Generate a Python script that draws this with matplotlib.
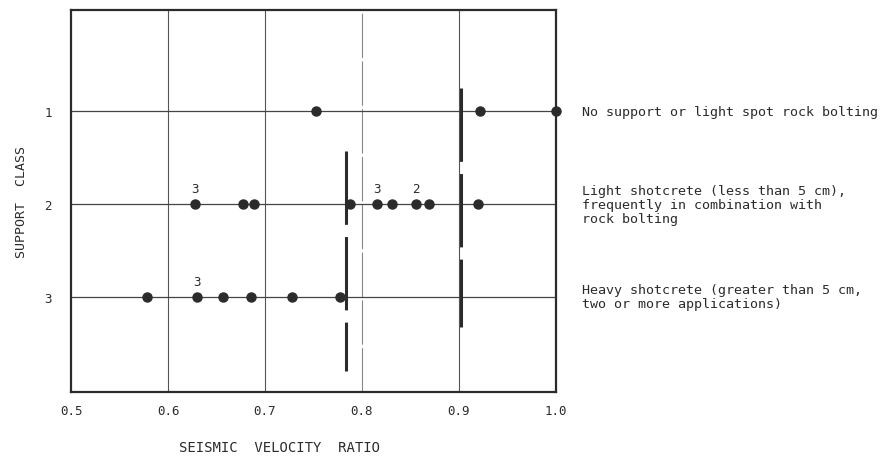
import matplotlib.pyplot as plt

# Data
class1_x = [0.753, 0.922, 1.0]
class2_x = [0.628, 0.677, 0.689, 0.788, 0.816, 0.831, 0.856, 0.869, 0.920]
class3_x = [0.578, 0.630, 0.657, 0.686, 0.728, 0.777]

# count labels written above some points: (x, class, text)
count_labels = [(0.628, 2, "3"), (0.816, 2, "3"), (0.856, 2, "2"), (0.630, 3, "3")]

# boundary lines between support classes: (x, class from, class to)
boundaries = [(0.7835, 1.43, 3.80), (0.902, 0.75, 3.32)]

class_texts = [
    "No support or light spot rock bolting",
    "Light shotcrete (less than 5 cm),\nfrequently in combination with\nrock bolting",
    "Heavy shotcrete (greater than 5 cm,\ntwo or more applications)",
]

x_ticks = [0.5, 0.6, 0.7, 0.8, 0.9, 1.0]
y_ticks = [1, 2, 3]

ink = "#2b2b2b"
plt.rcParams['font.family'] = ['DejaVu Sans Mono', 'DejaVu Sans']

fig = plt.figure(figsize=(8.89, 4.60), dpi=100)
ax = fig.add_axes([0.080, 0.146, 0.545, 0.830])

# grid lines
for x in [0.6, 0.7, 0.9]:
    ax.axvline(x, color="#555555", lw=0.8, zorder=1)
ax.axvline(0.8, color="#888888", lw=0.8, ls=(0, (40, 3)), zorder=1)
for c in y_ticks:
    ax.axhline(c, color="#444444", lw=0.9, zorder=1)

# class boundaries
for bx, b0, b1 in boundaries:
    ax.vlines(bx, b0, b1, color=ink, lw=2.2, linestyles=[(0, (24, 4))], zorder=2)

# points
for xs, c in [(class1_x, 1), (class2_x, 2), (class3_x, 3)]:
    ax.plot(xs, [c] * len(xs), "o", color=ink, ms=6.5, zorder=3, clip_on=False)

for x, c, t in count_labels:
    ax.text(x, c - 0.1, t, ha="center", va="bottom", fontsize=9, color=ink)

ax.set_xlim(0.5, 1.0)
ax.set_ylim(4.02, -0.086)
ax.set_xticks(x_ticks)
ax.set_xticklabels(["0.5", "0.6", "0.7", "0.8", "0.9", "1.0"])
ax.set_yticks(y_ticks)
ax.set_yticklabels(["1", "2", "3"])
ax.tick_params(length=0, labelsize=9, colors=ink)
ax.tick_params(axis="x", pad=9)
ax.tick_params(axis="y", pad=14)
for s in ax.spines.values():
    s.set_linewidth(1.6)
    s.set_color(ink)

ax.set_xlabel("SEISMIC  VELOCITY  RATIO", fontsize=10, color=ink)
ax.xaxis.set_label_coords(0.43, -0.125)
ax.set_ylabel("SUPPORT  CLASS", fontsize=9.5, color=ink, labelpad=12)

# descriptions of support classes on the right
for c, t in zip(y_ticks, class_texts):
    ax.text(1.055, c, t, transform=ax.get_yaxis_transform(), ha="left",
            va="center", fontsize=9.6, color=ink, linespacing=1.1)

fig.savefig("out.png", dpi=100)
